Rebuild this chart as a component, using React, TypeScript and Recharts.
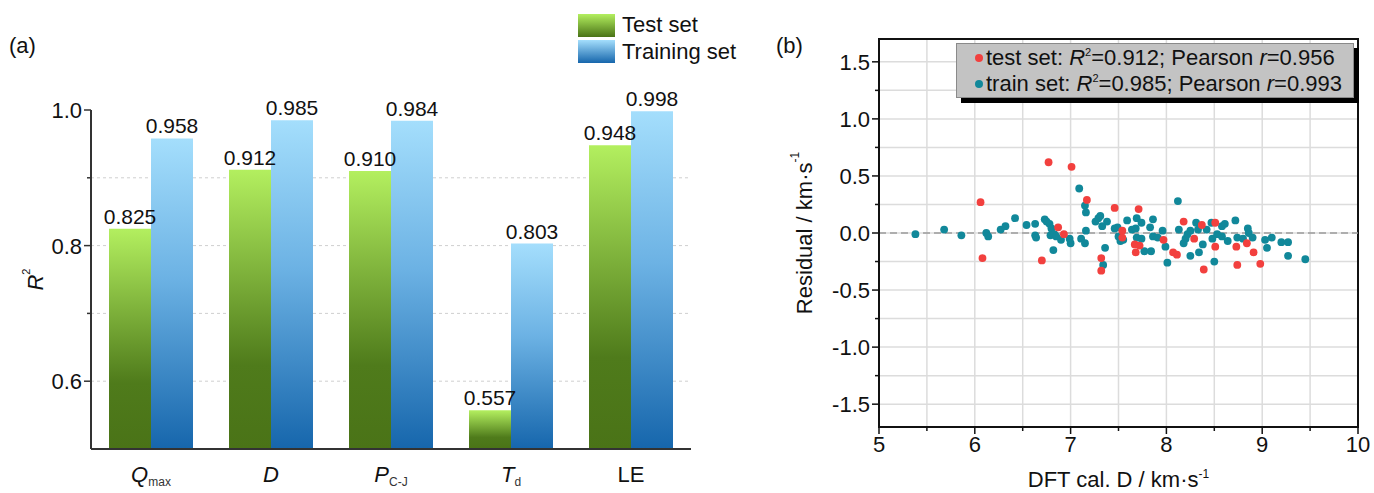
import React from 'react';
import {
  BarChart, Bar, XAxis, YAxis, CartesianGrid, LabelList, Legend, Label,
  ScatterChart, Scatter, ReferenceLine, ReferenceArea,
} from 'recharts';

const FONT = '"Liberation Sans", Arial, sans-serif';
const INK = '#111';

// ---------- panel (a) data ----------
const categories = ['Qmax', 'D', 'PC-J', 'Td', 'LE'];
const categoryMain = ['Q', 'D', 'P', 'T', 'LE'];
const categorySub = ['max', '', 'C-J', 'd', ''];
const categoryItalic = [true, true, true, true, false];
const testR2 = [0.825, 0.912, 0.910, 0.557, 0.948];
const trainR2 = [0.958, 0.985, 0.984, 0.803, 0.998];
const seriesNames = ['Test set', 'Training set'];
const barYTicks = [0.6, 0.7, 0.8, 0.9, 1.0];
const barYLabelled = [0.6, 0.8, 1.0];

// ---------- panel (b) data ----------
const testX = [6.77, 7.01, 6.06, 6.08, 7.17, 6.87, 6.93, 6.70, 7.32, 7.32, 7.46, 7.54, 7.54, 7.71, 7.67, 7.72, 7.68, 7.97, 8.07, 8.11, 8.18, 8.29, 8.37, 8.39, 8.51, 8.51, 8.73, 8.74, 8.84, 8.91, 8.98];
const testY = [0.62, 0.58, 0.27, -0.22, 0.29, 0.05, -0.01, -0.24, -0.22, -0.33, 0.22, 0.02, -0.04, 0.21, -0.10, -0.11, -0.17, -0.06, -0.17, -0.19, 0.10, -0.05, 0.07, -0.32, 0.09, -0.12, -0.12, -0.28, -0.09, -0.17, -0.27];
const trainX = [5.38, 5.68, 5.86, 6.12, 6.14, 6.27, 6.32, 6.42, 6.54, 6.63,
  6.63, 6.64, 6.73, 6.75, 6.78, 6.80, 6.79, 6.83, 6.85, 6.82,
  6.90, 6.99, 7.00, 7.09, 7.15, 7.16, 7.16, 7.11, 7.15, 7.26,
  7.29, 7.31, 7.33, 7.38, 7.36, 7.34, 7.46, 7.49, 7.50, 7.52,
  7.55, 7.59, 7.64, 7.68, 7.69, 7.74, 7.69, 7.74, 7.77, 7.84,
  7.83, 7.86, 7.86, 7.91, 7.96, 7.99, 8.01, 8.12, 8.13, 8.18,
  8.20, 8.22, 8.25, 8.25, 8.31, 8.33, 8.34, 8.38, 8.42, 8.47,
  8.48, 8.50, 8.53, 8.58, 8.61, 8.58, 8.64, 8.72, 8.74, 8.80,
  8.85, 8.86, 8.90, 9.03, 9.05, 9.10, 9.20, 9.27, 9.27, 9.45];
const trainY = [-0.01, 0.03, -0.02, 0.00, -0.03, 0.03, 0.06, 0.13, 0.07, 0.08,
  -0.02, -0.04, 0.12, 0.10, 0.08, 0.04, -0.02, -0.01, -0.03, -0.15,
  -0.06, -0.05, -0.09, 0.39, 0.24, 0.18, 0.02, -0.05, -0.09, 0.10,
  0.13, 0.15, 0.06, 0.10, -0.13, -0.28, 0.04, 0.05, -0.03, -0.07,
  -0.06, 0.11, 0.03, 0.04, 0.13, 0.09, -0.04, -0.05, -0.16, -0.16,
  0.05, 0.12, -0.03, -0.04, 0.02, -0.12, -0.26, 0.28, 0.03, -0.09,
  -0.05, -0.01, 0.02, -0.20, 0.09, 0.03, -0.17, -0.10, 0.03, 0.09,
  -0.05, -0.25, -0.01, 0.06, 0.08, -0.03, -0.07, 0.11, -0.04, -0.05,
  0.04, 0.00, -0.04, -0.06, -0.13, -0.04, -0.08, -0.08, -0.20, -0.23];
const resXTicks = [5, 5.5, 6, 6.5, 7, 7.5, 8, 8.5, 9, 9.5, 10];
const resXLabelled = [5, 6, 7, 8, 9, 10];
const resYTicks = [-1.5, -1.25, -1, -0.75, -0.5, -0.25, 0, 0.25, 0.5, 0.75, 1, 1.25, 1.5];
const resYLabelled = [-1.5, -1, -0.5, 0, 0.5, 1, 1.5];
const legendSetNames = ['test set', 'train set'];
const legendR2 = ['0.912', '0.985'];
const legendPearson = ['0.956', '0.993'];

const GREEN_TOP = '#b3ef5f';
const GREEN_BOT = '#4a7317';
const BLUE_TOP = '#a4defc';
const BLUE_BOT = '#1666ac';
const TEST_COLOR = '#f2403e';
const TRAIN_COLOR = '#11889a';

const barData = categories.map((c, i) => ({ cat: c, test: testR2[i], train: trainR2[i] }));
const testData = testX.map((x, i) => ({ x, y: testY[i] }));
const trainData = trainX.map((x, i) => ({ x, y: trainY[i] }));

// ---------- ticks ----------
const CatTick = (props: any) => {
  const { x, y, payload } = props;
  const i = categories.indexOf(payload.value);
  return (
    <text x={x} y={y + 33} textAnchor="middle" fontFamily={FONT} fontSize={22} fill={INK}>
      <tspan fontStyle={categoryItalic[i] ? 'italic' : 'normal'}>{categoryMain[i]}</tspan>
      {categorySub[i] ? <tspan fontSize={12} dy={4} fill="#333">{categorySub[i]}</tspan> : null}
    </text>
  );
};

const BarYTick = (props: any) => {
  const { x, y, payload } = props;
  const major = barYLabelled.includes(payload.value);
  return (
    <g>
      <line x1={x - (major ? 7 : 4)} x2={x} y1={y} y2={y} stroke="#333" strokeWidth={1.5} />
      {major ? (
        <text x={x - 9} y={y} dy="0.36em" textAnchor="end" fontFamily={FONT} fontSize={22} fill={INK}>
          {payload.value.toFixed(1)}
        </text>
      ) : null}
    </g>
  );
};

const ResXTick = (props: any) => {
  const { x, y, payload } = props;
  const major = resXLabelled.includes(payload.value);
  return (
    <g>
      <line x1={x} x2={x} y1={y} y2={y + (major ? 7 : 4)} stroke={INK} strokeWidth={1.5} />
      {major ? (
        <text x={x} y={y + 25} textAnchor="middle" fontFamily={FONT} fontSize={22} fill={INK}>
          {String(payload.value)}
        </text>
      ) : null}
    </g>
  );
};

const ResYTick = (props: any) => {
  const { x, y, payload } = props;
  const major = resYLabelled.includes(payload.value);
  return (
    <g>
      <line x1={x - (major ? 7 : 4)} x2={x} y1={y} y2={y} stroke={INK} strokeWidth={1.5} />
      {major ? (
        <text x={x - 9} y={y} dy="0.36em" textAnchor="end" fontFamily={FONT} fontSize={22} fill={INK}>
          {payload.value.toFixed(1)}
        </text>
      ) : null}
    </g>
  );
};

// ---------- legends ----------
const BarLegend = (props: any) => {
  const payload = props.payload || [];
  const grads = [
    `linear-gradient(to bottom, ${GREEN_TOP}, ${GREEN_BOT})`,
    `linear-gradient(to bottom, ${BLUE_TOP}, ${BLUE_BOT})`,
  ];
  const names = payload.length ? payload.map((p: any) => p.value) : seriesNames;
  return (
    <div style={{ fontFamily: FONT, fontSize: 22, color: INK }}>
      {names.map((n: string, i: number) => (
        <div key={n} style={{ display: 'flex', alignItems: 'center', height: 26.5 }}>
          <div style={{ width: 37, height: 23, background: grads[i], marginRight: 7 }} />
          <span>{n}</span>
        </div>
      ))}
    </div>
  );
};

const ResLegend = () => {
  const colors = [TEST_COLOR, TRAIN_COLOR];
  return (
    <div style={{ position: 'relative', width: 398, height: 55 }}>
      <div style={{ position: 'absolute', left: 5, top: 5, width: 398, height: 55, background: '#000' }} />
      <div
        style={{
          position: 'absolute', left: 0, top: 0, width: 396, height: 53,
          background: '#c3c3c3', border: '1px solid #8a8a8a',
          fontFamily: FONT, fontSize: 22, color: INK, whiteSpace: 'nowrap',
        }}
      >
        {legendSetNames.map((n, i) => (
          <div key={n} style={{ display: 'flex', alignItems: 'center', height: 26, paddingLeft: 18, marginTop: i === 0 ? 1 : 0 }}>
            <span style={{ width: 8, height: 8, borderRadius: 4, background: colors[i], marginRight: 3, display: 'inline-block' }} />
            <span>
              {n}: <i>R</i>
              <span style={{ fontSize: 11, position: 'relative', top: -9 }}>2</span>
              ={legendR2[i]}; Pearson <i>r</i>={legendPearson[i]}
            </span>
          </div>
        ))}
      </div>
    </div>
  );
};

const dot = (color: string) => (props: any) => (
  <circle cx={props.cx} cy={props.cy} r={3.9} fill={color} />
);

export default function App() {
  return (
    <div style={{ position: 'absolute', left: 0, top: 0, width: 1374, height: 493, background: '#fff', overflow: 'hidden' }}>
      <div style={{ position: 'absolute', left: 9, top: 34, fontFamily: FONT, fontSize: 22, lineHeight: '24px', color: INK }}>(a)</div>
      <div style={{ position: 'absolute', left: 776, top: 34, fontFamily: FONT, fontSize: 22, lineHeight: '24px', color: INK }}>(b)</div>

      <div style={{ position: 'absolute', left: 0, top: 0 }}>
        <BarChart
          width={740}
          height={493}
          data={barData}
          margin={{ top: 110, right: 49, bottom: 4, left: 30 }}
          barGap={0}
          barCategoryGap="15%"
        >
          <defs>
            <linearGradient id="gradGreen" x1="0" y1="0" x2="0" y2="1">
              <stop offset="0" stopColor={GREEN_TOP} />
              <stop offset="0.7" stopColor="#4f7b1b" />
              <stop offset="1" stopColor={GREEN_BOT} />
            </linearGradient>
            <linearGradient id="gradBlue" x1="0" y1="0" x2="0" y2="1">
              <stop offset="0" stopColor={BLUE_TOP} />
              <stop offset="0.45" stopColor="#6cb2e4" />
              <stop offset="1" stopColor={BLUE_BOT} />
            </linearGradient>
          </defs>
          <CartesianGrid vertical={false} horizontalValues={[0.6, 0.7, 0.8, 0.9]} stroke="#cfcfcf" strokeDasharray="3 3" />
          <XAxis
            dataKey="cat"
            height={40}
            interval={0}
            tick={<CatTick />}
            tickLine={false}
            tickSize={0}
            tickMargin={0}
            axisLine={{ stroke: '#333', strokeWidth: 2 }}
          />
          <YAxis
            type="number"
            domain={[0.5, 1.0]}
            ticks={barYTicks}
            width={61}
            tick={<BarYTick />}
            tickLine={false}
            tickSize={0}
            tickMargin={0}
            allowDataOverflow
            axisLine={{ stroke: '#333', strokeWidth: 2 }}
          >
            <Label
              content={(p: any) => {
                const vb = p.viewBox || { x: 30, y: 110, width: 61, height: 339 };
                const cx = vb.x + 5;
                const cy = vb.y + vb.height / 2;
                return (
                  <text x={cx} y={cy} transform={`rotate(-90, ${cx}, ${cy})`} textAnchor="middle" dominantBaseline="central" fontFamily={FONT} fontSize={22} fill={INK}>
                    <tspan fontStyle="italic">R</tspan>
                    <tspan fontSize={11} dy={-9}>2</tspan>
                  </text>
                );
              }}
            />
          </YAxis>
          <Legend
            layout="vertical"
            align="center"
            verticalAlign="middle"
            wrapperStyle={{ left: 578, top: 12, width: 'auto' }}
            content={<BarLegend />}
          />
          <Bar dataKey="test" name={seriesNames[0]} fill="url(#gradGreen)" isAnimationActive={false}>
            <LabelList dataKey="test" position="top" offset={5} formatter={(v: any) => Number(v).toFixed(3)} fontFamily={FONT} fontSize={21} fill={INK} />
          </Bar>
          <Bar dataKey="train" name={seriesNames[1]} fill="url(#gradBlue)" isAnimationActive={false}>
            <LabelList dataKey="train" position="top" offset={5} formatter={(v: any) => Number(v).toFixed(3)} fontFamily={FONT} fontSize={21} fill={INK} />
          </Bar>
        </BarChart>
      </div>

      <div style={{ position: 'absolute', left: 740, top: 0 }}>
        <ScatterChart width={634} height={493} margin={{ top: 39, right: 16, bottom: 26, left: 59 }}>
          <CartesianGrid stroke="#dcdcdc" strokeWidth={1.5} />
          <XAxis
            type="number"
            dataKey="x"
            domain={[5, 10]}
            ticks={resXTicks}
            allowDataOverflow
            height={40}
            tick={<ResXTick />}
            tickLine={false}
            tickSize={0}
            tickMargin={0}
            axisLine={{ stroke: INK, strokeWidth: 2 }}
          >
            <Label
              content={(p: any) => {
                const vb = p.viewBox || { x: 139, y: 427, width: 479, height: 40 };
                return (
                  <text x={vb.x + vb.width / 2} y={vb.y + 60} textAnchor="middle" fontFamily={FONT} fontSize={22} fill={INK}>
                    DFT cal. D / km·s<tspan fontSize={12} dy={-9}>-1</tspan>
                  </text>
                );
              }}
            />
          </XAxis>
          <YAxis
            type="number"
            dataKey="y"
            domain={[-1.7, 1.7]}
            ticks={resYTicks}
            allowDataOverflow
            width={80}
            tick={<ResYTick />}
            tickLine={false}
            tickSize={0}
            tickMargin={0}
            axisLine={{ stroke: INK, strokeWidth: 2 }}
          >
            <Label
              content={(p: any) => {
                const vb = p.viewBox || { x: 59, y: 39, width: 80, height: 388 };
                const cx = vb.x + 5;
                const cy = vb.y + vb.height / 2;
                return (
                  <text x={cx} y={cy} transform={`rotate(-90, ${cx}, ${cy})`} textAnchor="middle" dominantBaseline="central" fontFamily={FONT} fontSize={22} fill={INK}>
                    Residual / km·s<tspan fontSize={12} dy={-9}>-1</tspan>
                  </text>
                );
              }}
            />
          </YAxis>
          <ReferenceLine y={0} stroke="#9c9c9c" strokeDasharray="7 4" strokeWidth={1.5} />
          <ReferenceArea x1={5} x2={10} y1={-1.7} y2={1.7} fill="none" stroke={INK} strokeWidth={2} />
          <Scatter name="train set" data={trainData} fill={TRAIN_COLOR} shape={dot(TRAIN_COLOR)} isAnimationActive={false} />
          <Scatter name="test set" data={testData} fill={TEST_COLOR} shape={dot(TEST_COLOR)} isAnimationActive={false} />
          <Legend
            layout="vertical"
            align="center"
            verticalAlign="middle"
            wrapperStyle={{ left: 216, top: 43, width: 'auto' }}
            content={<ResLegend />}
          />
        </ScatterChart>
      </div>
    </div>
  );
}
